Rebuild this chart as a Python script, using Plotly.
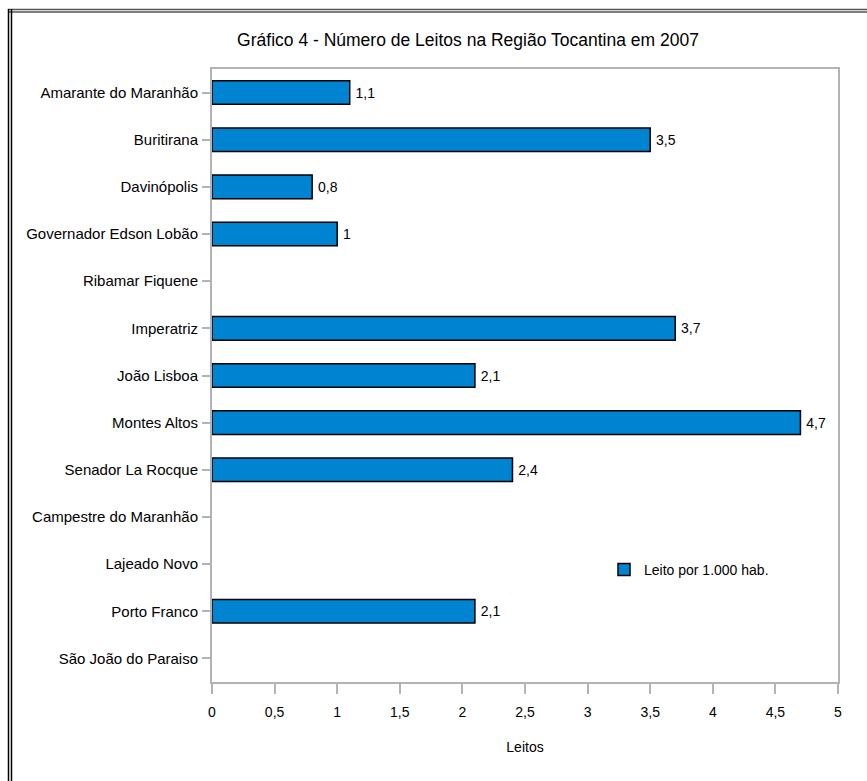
import plotly.graph_objects as go

categories = ["Amarante do Maranhão", "Buritirana", "Davinópolis", "Governador Edson Lobão",
              "Ribamar Fiquene", "Imperatriz", "João Lisboa", "Montes Altos", "Senador La Rocque",
              "Campestre do Maranhão", "Lajeado Novo", "Porto Franco", "São João do Paraiso"]
values = [1.1, 3.5, 0.8, 1.0, None, 3.7, 2.1, 4.7, 2.4, None, None, 2.1, None]
series_name = "Leito por 1.000 hab."
x_ticks = [0, 0.5, 1, 1.5, 2, 2.5, 3, 3.5, 4, 4.5, 5]
x_tick_labels = ["0", "0,5", "1", "1,5", "2", "2,5", "3", "3,5", "4", "4,5", "5"]
title = "Gráfico 4 - Número de Leitos na Região Tocantina em 2007"
x_title = "Leitos"

def fmt(v):
    if v is None:
        return ""
    return "\u2009" + ("%g" % v).replace(".", ",")

W, H = 867, 781
L, R, T, B = 212, 29, 69, 99
PW, PH = W - L - R, H - T - B

def px_x(px):
    return (px - L) / PW

def px_y(py):
    return (H - B - py) / PH

FONT = "Liberation Sans, Arial, sans-serif"
AX = "#b3b3b3"

fig = go.Figure()
fig.add_trace(go.Bar(
    y=categories, x=values, orientation="h", name=series_name,
    marker=dict(color="#0084d1", line=dict(color="#000000", width=1.5)),
    width=0.5,
    text=[fmt(v) for v in values], textposition="outside",
    textfont=dict(family=FONT, size=14, color="#000000"),
    cliponaxis=False, showlegend=True,
))

shapes = []
for py in (9.5, 12):
    shapes.append(dict(type="line", xref="paper", yref="paper",
                       x0=px_x(8), x1=px_x(W + 5), y0=px_y(py), y1=px_y(py),
                       line=dict(color="#555555", width=1.5)))
for pxv in (8.5, 11.5):
    shapes.append(dict(type="line", xref="paper", yref="paper",
                       x0=px_x(pxv), x1=px_x(pxv), y0=px_y(9), y1=px_y(H + 5),
                       line=dict(color="#000000", width=1.5)))

fig.update_layout(
    width=W, height=H,
    margin=dict(l=L, r=R, t=T, b=B),
    paper_bgcolor="white", plot_bgcolor="white",
    font=dict(family=FONT, size=14, color="#000000"),
    separators=",.",
    title=dict(text=title, x=468 / W, xanchor="center", y=1 - 40 / H, yanchor="middle",
               font=dict(family=FONT, size=17.5, color="#000000")),
    xaxis=dict(range=[0, 5], tickvals=x_ticks, ticktext=x_tick_labels,
               showgrid=False, zeroline=False, showline=True, linecolor=AX, linewidth=2,
               mirror=True, ticks="outside", ticklen=10, tickcolor=AX, tickwidth=2,
               tickfont=dict(size=14), fixedrange=True, ticklabelstandoff=6,
               title=dict(text=x_title, font=dict(size=14), standoff=23)),
    yaxis=dict(categoryorder="array", categoryarray=categories,
               range=[12.5, -0.5],
               showgrid=False, zeroline=False, showline=True, linecolor=AX, linewidth=2,
               mirror=True, ticks="outside", ticklen=8, tickcolor=AX, tickwidth=1.5,
               tickfont=dict(size=15), ticklabelstandoff=1),
    legend=dict(x=px_x(604), y=px_y(570), xanchor="left", yanchor="middle",
                bgcolor="rgba(0,0,0,0)", font=dict(size=14), itemwidth=30,
                tracegroupgap=0),
    shapes=shapes,
    bargap=0.5,
)

fig.write_html("out.html", config={"displayModeBar": False},
               post_script="document.body.style.margin='0px';document.body.style.overflow='hidden';")
